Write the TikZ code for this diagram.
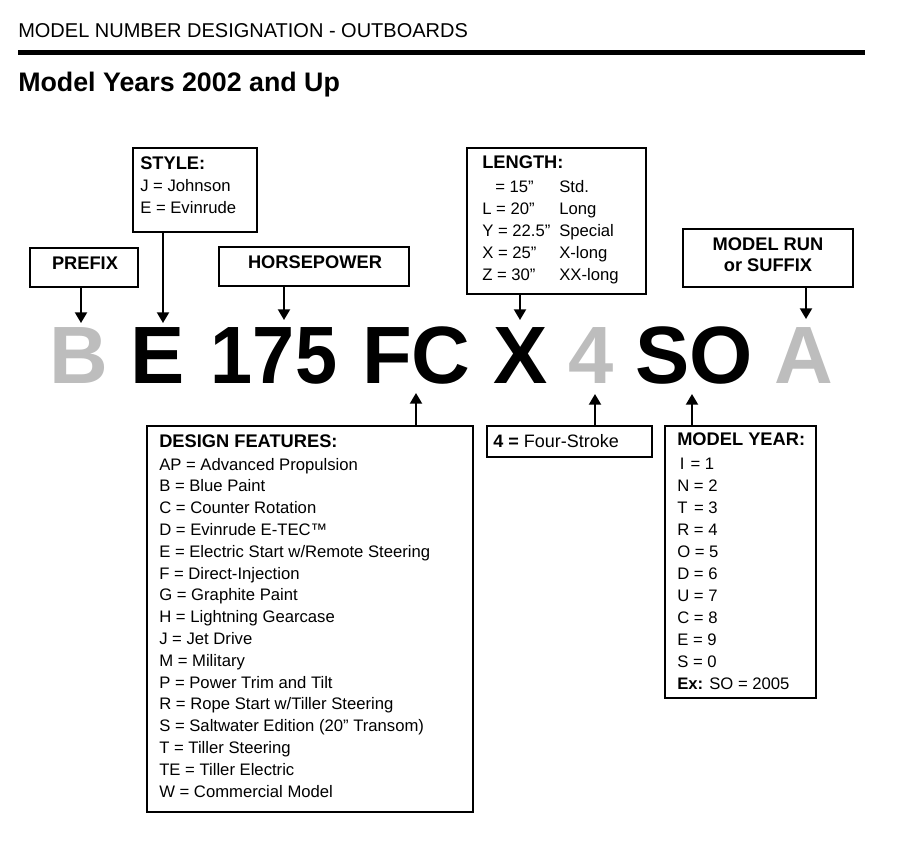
\documentclass[tikz,border=0pt]{standalone}
\usepackage{fontspec}
\setmainfont{Liberation Sans}
\usetikzlibrary{arrows.meta}
\definecolor{biggray}{HTML}{BDBDBD}
\newcommand{\mkbox}[5]{\node[framebox, minimum width={(#4-#2)*0.75pt}, minimum height={(#5-#3)*0.75pt}] (#1) at ({(#2+#4)/2},{(#3+#5)/2}) {};}
\newcommand{\bt}{\fontsize{13.7}{15}\selectfont\bfseries}
\begin{document}
\begin{tikzpicture}[x=0.75pt,y=-0.75pt,
  framebox/.style={draw, line width=0.9pt, inner sep=0pt},
  lbl/.style={anchor=base west, inner sep=0pt, font=\fontsize{12.5}{14}\selectfont},
  lblb/.style={anchor=base west, inner sep=0pt, font=\bt},
  lblc/.style={anchor=base, inner sep=0pt, font=\bt},
  big/.style={anchor=base, inner sep=0pt, font=\fontsize{61}{61}\selectfont\bfseries},
  arr/.style={line width=1.5pt, -{Triangle[width=9pt,length=8pt]}}]
\useasboundingbox (0,0) rectangle (904,844);

% header
\node[anchor=base west, inner sep=0pt, font=\fontsize{15}{17}\selectfont] (hdr) at (18,37) {MODEL NUMBER DESIGNATION - OUTBOARDS};
\coordinate (ruleL) at (18,52);
\coordinate (ruleR) at (865,52);
\draw[line width=3.75pt] (ruleL) -- (ruleR);
\node[anchor=base west, inner sep=0pt, font=\fontsize{20.1}{22}\selectfont\bfseries] (title) at (18,91) {Model Years 2002 and Up};

% big model number
\node[big, text=biggray] (bB) at (78.5,383) {B};
\node[big] (bE) at (157.5,383) {E};
\node[big] (b175) at (274,383) {\scalebox{0.93}[1]{175}};
\node[big] (bFC) at (416.5,383) {FC};
\node[big] (bX) at (520.5,383) {X};
\node[big, text=biggray] (b4) at (591,383) {4};
\node[big] (bSO) at (694,383) {SO};
\node[big, text=biggray] (bA) at (803.5,383) {A};

% boxes
\mkbox{style}{133}{148}{257}{232}
\mkbox{prefix}{30}{248}{138}{287}
\mkbox{hp}{219}{247}{409}{286}
\mkbox{length}{467}{148}{646}{294}
\mkbox{run}{683}{229}{853}{287}
\mkbox{design}{147}{426}{473}{812}
\mkbox{four}{487}{426}{652}{457}
\mkbox{year}{665}{426}{816}{698}

% style text
\node[lblb] (styleT) at (140,169) {STYLE:};
\node[lbl] (style1) at (140,191) {J = Johnson};
\node[lbl] (style2) at (140,213) {E = Evinrude};

% prefix, horsepower
\node[lblc] (prefixT) at (85,269) {PREFIX};
\node[lblc] (hpT) at (315,268) {HORSEPOWER};

% length
\node[lblb] (lenT) at (482,168) {LENGTH:};
\node[lbl] (len1a) at (495,192) {= 15”};
\node[lbl] (len1b) at (559,192) {Std.};
\node[lbl] (len2a) at (482,214) {L = 20”};
\node[lbl] (len2b) at (559,214) {Long};
\node[lbl] (len3a) at (482,236) {Y = 22.5”};
\node[lbl] (len3b) at (559,236) {Special};
\node[lbl] (len4a) at (482,258) {X = 25”};
\node[lbl] (len4b) at (559,258) {X-long};
\node[lbl] (len5a) at (482,280) {Z = 30”};
\node[lbl] (len5b) at (559,280) {XX-long};

% model run
\node[lblc] (run1) at (768,250) {MODEL RUN};
\node[lblc] (run2) at (768,271) {or SUFFIX};

% design features
\node[lblb] (desT) at (159,447) {DESIGN FEATURES:};
\foreach \t [count=\i from 0] in {AP = Advanced Propulsion, B = Blue Paint, C = Counter Rotation, D = Evinrude E-TEC™, E = Electric Start w/Remote Steering, F = Direct-Injection, G = Graphite Paint, H = Lightning Gearcase, J = Jet Drive, M = Military, P = Power Trim and Tilt, R = Rope Start w/Tiller Steering, S = Saltwater Edition (20” Transom), T = Tiller Steering, TE = Tiller Electric, W = Commercial Model}
  \node[lbl] (des\i) at (159,{470+21.8*\i}) {\t};

% four stroke
\node[lbl, font=\fontsize{13.5}{15}\selectfont] (fourT) at (493,447) {\textbf{4 =} Four-Stroke};

% model year
\node[lblb] (yearT) at (677,445) {MODEL YEAR:};
\foreach \t [count=\i from 0] in {\kern2pt I\kern1pt\ = 1, N = 2, T\kern1.5pt\ = 3, R = 4, O = 5, D = 6, U = 7, C = 8, E = 9, S = 0, \textbf{Ex:} SO = 2005}
  \node[lbl] (yr\i) at (677,{469+22*\i}) {\t};

% arrow targets
\coordinate (tB) at (81,323);
\coordinate (tE) at (163,323);
\coordinate (t175) at (284,320);
\coordinate (tX) at (520,320);
\coordinate (tA) at (806,319);
\coordinate (tFC) at (416,393);
\coordinate (t4) at (595,394);
\coordinate (tSO) at (692,394);

\draw[arr] (prefix.south -| tB) -- (tB);
\draw[arr] (style.south -| tE) -- (tE);
\draw[arr] (hp.south -| t175) -- (t175);
\draw[arr] (length.south -| tX) -- (tX);
\draw[arr] (run.south -| tA) -- (tA);
\draw[arr] (design.north -| tFC) -- (tFC);
\draw[arr] (four.north -| t4) -- (t4);
\draw[arr] (year.north -| tSO) -- (tSO);
\end{tikzpicture}
\end{document}
